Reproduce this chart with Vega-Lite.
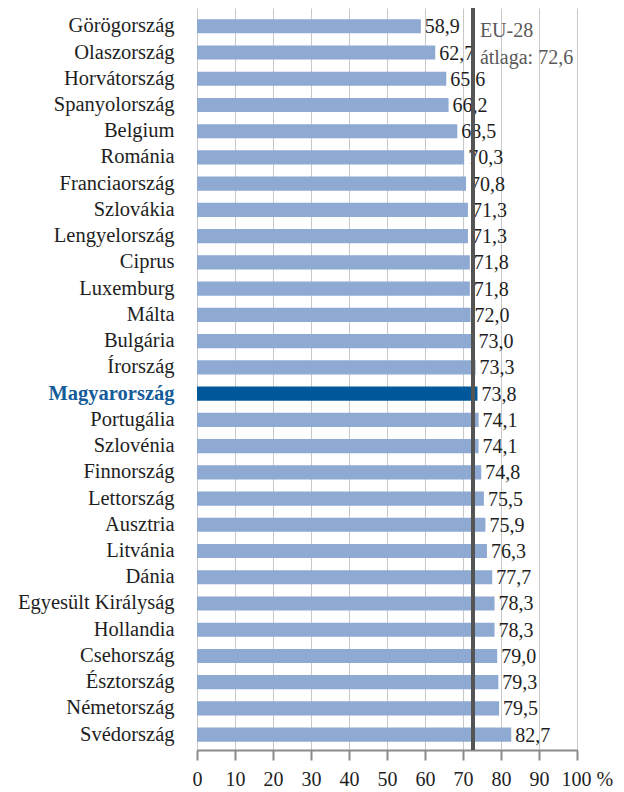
{
  "$schema": "https://vega.github.io/schema/vega-lite/v6.json",
  "autosize": {"type": "none"},
  "padding": {"left": 197, "top": 8, "right": 47, "bottom": 42},
  "width": 380,
  "height": 742,
  "background": "white",
  "config": {
    "view": {"stroke": null},
    "locale": {"number": {"decimal": ",", "thousands": " ", "grouping": [3], "currency": ["", ""]}},
    "font": "Liberation Serif"
  },
  "data": {
    "values": [
      {"country": "Görögország", "value": 58.9},
      {"country": "Olaszország", "value": 62.7},
      {"country": "Horvátország", "value": 65.6},
      {"country": "Spanyolország", "value": 66.2},
      {"country": "Belgium", "value": 68.5},
      {"country": "Románia", "value": 70.3},
      {"country": "Franciaország", "value": 70.8},
      {"country": "Szlovákia", "value": 71.3},
      {"country": "Lengyelország", "value": 71.3},
      {"country": "Ciprus", "value": 71.8},
      {"country": "Luxemburg", "value": 71.8},
      {"country": "Málta", "value": 72.0},
      {"country": "Bulgária", "value": 73.0},
      {"country": "Írország", "value": 73.3},
      {"country": "Magyarország", "value": 73.8},
      {"country": "Portugália", "value": 74.1},
      {"country": "Szlovénia", "value": 74.1},
      {"country": "Finnország", "value": 74.8},
      {"country": "Lettország", "value": 75.5},
      {"country": "Ausztria", "value": 75.9},
      {"country": "Litvánia", "value": 76.3},
      {"country": "Dánia", "value": 77.7},
      {"country": "Egyesült Királyság", "value": 78.3},
      {"country": "Hollandia", "value": 78.3},
      {"country": "Csehország", "value": 79.0},
      {"country": "Észtország", "value": 79.3},
      {"country": "Németország", "value": 79.5},
      {"country": "Svédország", "value": 82.7}
    ]
  },
  "layer": [
    {
      "mark": {"type": "bar"},
      "encoding": {
        "y": {
          "field": "country",
          "type": "nominal",
          "sort": null,
          "title": null,
          "scale": {"paddingInner": 0.46, "paddingOuter": 0.37, "align": 0.576},
          "axis": {
            "ticks": false,
            "domain": false,
            "grid": false,
            "labelPadding": 23,
            "labelFont": "Liberation Serif",
            "labelFontSize": 20.5,
            "labelColor": {"condition": {"test": "datum.value === 'Magyarország'", "value": "#145c9a"}, "value": "#1e1e1e"},
            "labelFontWeight": {"condition": {"test": "datum.value === 'Magyarország'", "value": "bold"}, "value": "normal"}
          }
        },
        "x": {
          "field": "value",
          "type": "quantitative",
          "title": null,
          "scale": {"domain": [0, 100], "nice": false},
          "axis": {
            "tickCount": 10,
            "labelOverlap": false,
            "labelFlush": false,
            "labelExpr": "datum.value == 100 ? '100 %' : datum.label",
            "labelAlign": {"condition": {"test": "datum.value == 100", "value": "left"}, "value": "center"},
            "labelOffset": {"condition": {"test": "datum.value == 100", "value": -16}, "value": 0},
            "labelFont": "Liberation Serif",
            "labelFontSize": 20,
            "labelColor": "#1e1e1e",
            "labelPadding": 9,
            "tickSize": 10,
            "tickColor": "#8a8a8a",
            "tickWidth": 2,
            "domainColor": "#8a8a8a",
            "domainWidth": 2,
            "grid": true,
            "gridColor": "#c8c8c8",
            "gridWidth": 1
          }
        },
        "color": {"condition": {"test": "datum.country === 'Magyarország'", "value": "#00589b"}, "value": "#8ea9d2"}
      }
    },
    {
      "mark": {"type": "text", "align": "left", "baseline": "middle", "dx": 4, "dy": 1, "font": "Liberation Serif", "fontSize": 20, "color": "#1e1e1e"},
      "encoding": {
        "y": {"field": "country", "type": "nominal", "sort": null},
        "x": {"field": "value", "type": "quantitative"},
        "text": {"field": "value", "type": "quantitative", "format": ".1f"}
      }
    },
    {
      "mark": {"type": "rule", "color": "#555555", "strokeWidth": 2.5},
      "encoding": {"x": {"datum": 72.6}}
    },
    {
      "data": {"values": [
        {"country": "Görögország", "note": "EU-28"},
        {"country": "Olaszország", "note": "átlaga: 72,6"}
      ]},
      "mark": {"type": "text", "align": "left", "baseline": "middle", "dx": 7, "dy": 5, "font": "Liberation Serif", "fontSize": 20, "color": "#595959"},
      "encoding": {
        "y": {"field": "country", "type": "nominal", "sort": null},
        "x": {"datum": 72.6},
        "text": {"field": "note"}
      }
    }
  ]
}
